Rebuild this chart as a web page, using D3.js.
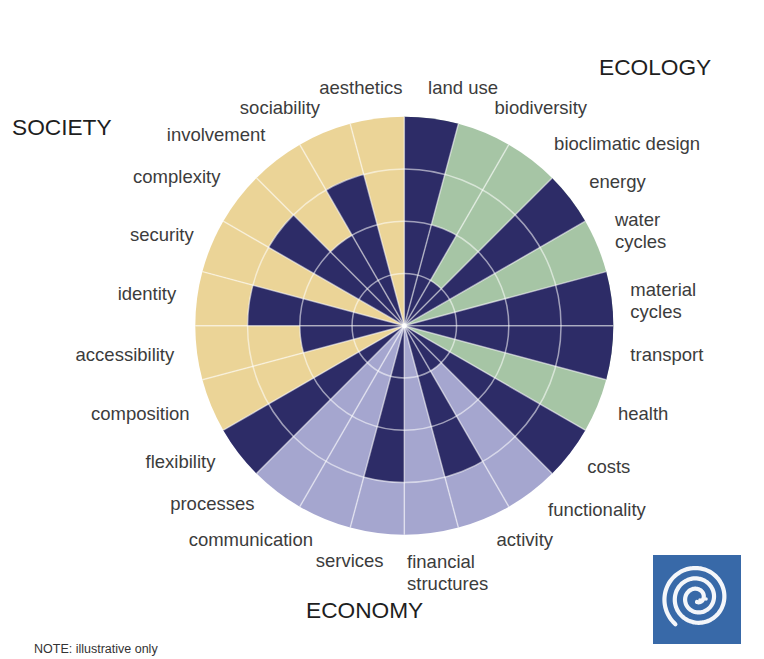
<!DOCTYPE html>
<html>
<head>
<meta charset="utf-8">
<script src="https://cdn.jsdelivr.net/npm/d3@7"></script>
<style>
  html, body { margin: 0; padding: 0; background: #fff; }
  svg { display: block; }
  text { font-family: "Liberation Sans", Arial, Helvetica, sans-serif; }
</style>
</head>
<body>
<svg id="chart" width="764" height="659"></svg>
<script>
// ---- data ----
const groups = ["ECOLOGY", "ECONOMY", "SOCIETY"];
const categories = [
  "land use", "biodiversity", "bioclimatic design", "energy", "water cycles", "material cycles", "transport", "health",
  "costs", "functionality", "activity", "financial structures", "services", "communication", "processes", "flexibility",
  "composition", "accessibility", "identity", "security", "complexity", "involvement", "sociability", "aesthetics"
];
const categoryGroup = [
  "ECOLOGY","ECOLOGY","ECOLOGY","ECOLOGY","ECOLOGY","ECOLOGY","ECOLOGY","ECOLOGY",
  "ECONOMY","ECONOMY","ECONOMY","ECONOMY","ECONOMY","ECONOMY","ECONOMY","ECONOMY",
  "SOCIETY","SOCIETY","SOCIETY","SOCIETY","SOCIETY","SOCIETY","SOCIETY","SOCIETY"
];
const scores = [
  4, 2, 1, 4, 0, 4, 4, 0,
  4, 1, 3, 0, 3, 0, 0, 4,
  0, 2, 3, 0, 3, 2, 3, 0
];
const ringTicks = [1, 2, 3, 4];

// ---- layout / style ----
const cx = 404.3, cy = 325.7, R = 209;
const groupColor = { ECOLOGY: "#a6c5a5", ECONOMY: "#a5a6cf", SOCIETY: "#ebd497" };
const navy = "#2d2c67";
// label placement tweaks [dx, dy] in px
const labelNudge = {
  "land use": [-6, -4], "aesthetics": [28, -4], "biodiversity": [3, 0], "bioclimatic design": [11, 5],
  "energy": [4, 0], "water cycles": [0, -4], "material cycles": [0, 7], "health": [3, 0], "costs": [2, 0],
  "functionality": [5, 0], "activity": [5, 0], "financial structures": [-27, 17], "services": [9, 5],
  "communication": [-4, 0], "processes": [-11, -6], "flexibility": [-8, -5], "composition": [-4, 0],
  "accessibility": [-4, 0], "identity": [-2, 0], "complexity": [-3, -5], "involvement": [0, -4], "sociability": [3, 0]
};
const twoLine = ["water cycles", "material cycles", "financial structures"];

const svg = d3.select("#chart");
const g = svg.append("g").attr("transform", `translate(${cx},${cy})`);

const angle = d3.scaleBand().domain(categories).range([0, 2 * Math.PI]).paddingInner(0).paddingOuter(0);
const r = d3.scaleLinear().domain([0, 4]).range([0, R]);

const arc = d3.arc();

// background sectors
g.selectAll("path.bg").data(categories).join("path")
  .attr("class", "bg")
  .attr("fill", (d, i) => groupColor[categoryGroup[i]])
  .attr("d", d => arc({ innerRadius: 0, outerRadius: r(4), startAngle: angle(d), endAngle: angle(d) + angle.bandwidth() }));

// value sectors
g.selectAll("path.val").data(categories).join("path")
  .attr("class", "val")
  .attr("fill", navy)
  .attr("d", (d, i) => arc({ innerRadius: 0, outerRadius: r(scores[i]), startAngle: angle(d), endAngle: angle(d) + angle.bandwidth() }));

// rings
g.selectAll("circle.ring").data(ringTicks.slice(0, 3)).join("circle")
  .attr("class", "ring")
  .attr("r", d => r(d))
  .attr("fill", "none")
  .attr("stroke", "#ffffff")
  .attr("stroke-opacity", 0.55)
  .attr("stroke-width", 1.5);

// radial lines
g.selectAll("line.spoke").data(categories).join("line")
  .attr("class", "spoke")
  .attr("x1", 0).attr("y1", 0)
  .attr("x2", d => r(4) * Math.sin(angle(d)))
  .attr("y2", d => -r(4) * Math.cos(angle(d)))
  .attr("stroke", "#ffffff")
  .attr("stroke-opacity", 0.55)
  .attr("stroke-width", 1.5);

// center highlight
g.append("circle").attr("r", 2.5).attr("fill", "#fff").attr("fill-opacity", 0.9);

// labels
const LR = 228, fs = 18.5, lh = 22;
categories.forEach((d, i) => {
  const a = angle(d) + angle.bandwidth() / 2;
  const s = Math.sin(a), c = Math.cos(a);
  const nud = labelNudge[d] || [0, 0];
  const x = LR * s + nud[0];
  const lines = twoLine.includes(d) ? d.split(" ") : [d];
  const h = lines.length * lh;
  const anchor = s > 0.1 ? "start" : (s < -0.1 ? "end" : "middle");
  const yc = -LR * c - c * 6 - 2 + nud[1];
  const t = g.append("text")
    .attr("text-anchor", anchor)
    .attr("font-size", fs)
    .attr("fill", "#3c3c3c");
  lines.forEach((ln, k) => {
    t.append("tspan")
      .attr("x", x)
      .attr("y", yc - h / 2 + lh * k + lh / 2)
      .attr("dy", "0.35em")
      .text(ln);
  });
});

// group titles
const titles = [
  { t: "ECOLOGY", x: 599, y: 67 },
  { t: "SOCIETY", x: 12, y: 127 },
  { t: "ECONOMY", x: 306, y: 610 }
];
svg.selectAll("text.title").data(titles).join("text")
  .attr("class", "title")
  .attr("x", d => d.x).attr("y", d => d.y).attr("dy", "0.35em")
  .attr("font-size", 22.7)
  .attr("fill", "#1e1e1e")
  .text(d => d.t);

// note
svg.append("text").attr("x", 34).attr("y", 649).attr("dy", "0.35em")
  .attr("font-size", 12.5).attr("fill", "#333").text("NOTE: illustrative only");

// logo
const logo = svg.append("g").attr("transform", "translate(653,555)");
logo.append("rect").attr("width", 88).attr("height", 89).attr("fill", "#3869a8");
const spiralPts = d3.range(0, 2.9 * 2 * Math.PI, 0.08).map(t => [t, 4 + t * 1.65]);
logo.append("path")
  .attr("transform", "translate(44,43)")
  .attr("d", d3.lineRadial().angle(p => -p[0] + Math.PI).radius(p => p[1]).curve(d3.curveCardinal)(spiralPts))
  .attr("fill", "none").attr("stroke", "#f4f6fa").attr("stroke-width", 4.2).attr("stroke-linecap", "round");
logo.append("circle").attr("cx", 47).attr("cy", 45).attr("r", 1.8).attr("fill", "#f4f6fa");
logo.append("circle").attr("cx", 53).attr("cy", 44).attr("r", 1.8).attr("fill", "#f4f6fa");
</script>
</body>
</html>
